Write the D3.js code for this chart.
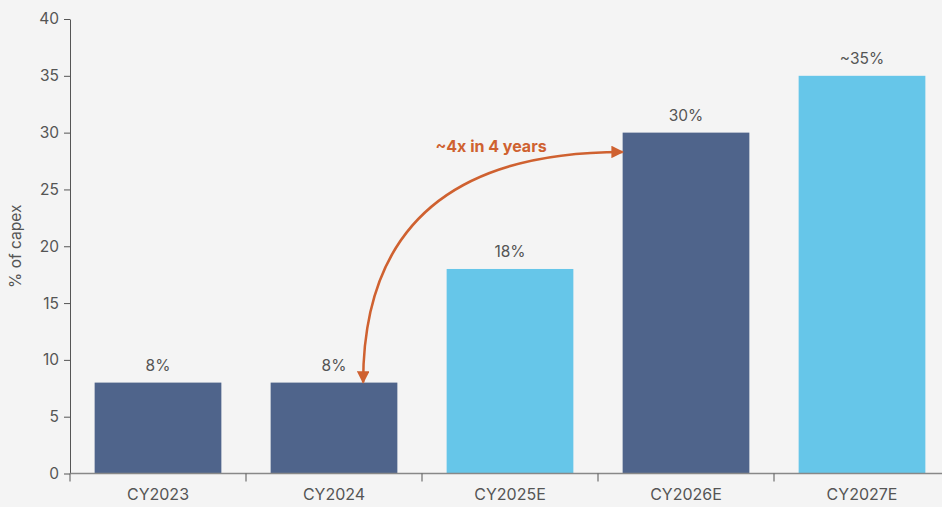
<!DOCTYPE html>
<html><head><meta charset="utf-8">
<script src="https://cdn.jsdelivr.net/npm/d3@7"></script>
<style>
html,body{margin:0;padding:0;background:#f4f4f4;}
svg{display:block;font-family:Inter,"Noto Sans",sans-serif;}
</style></head>
<body><svg id="chart" width="942" height="507"></svg>
<script>
const categories = ["CY2023","CY2024","CY2025E","CY2026E","CY2027E"];
const values = [8, 8, 18, 30, 35];
const valueLabels = ["8%","8%","18%","30%","~35%"];
const barKinds = ["actual","actual","estimate","actual","estimate"];
const yTicks = [0,5,10,15,20,25,30,35,40];
const yTitle = "% of capex";
const annotation = "~4x in 4 years";

const colors = {actual:"#4f648b", estimate:"#66c6e9"};
const svg = d3.select("#chart");
const x = d3.scaleBand().domain(categories).range([70, 950]).paddingInner(0.28).paddingOuter(0.14);
const y = d3.scaleLinear().domain([0, 40]).range([473.5, 19]);

// bars
svg.selectAll("rect.bar").data(categories).join("rect")
  .attr("class","bar")
  .attr("x", d => x(d))
  .attr("width", x.bandwidth())
  .attr("y", (d,i) => y(values[i]))
  .attr("height", (d,i) => y(0) - y(values[i]))
  .attr("fill", (d,i) => colors[barKinds[i]]);

// value labels
svg.selectAll("text.val").data(categories).join("text")
  .attr("class","val")
  .attr("x", d => x(d) + x.bandwidth()/2)
  .attr("y", (d,i) => y(values[i]) - 12)
  .attr("text-anchor","middle")
  .attr("font-size", 15.5)
  .attr("fill","#555")
  .text((d,i) => valueLabels[i]);

// y axis
const yAxis = svg.append("g").attr("transform","translate(70,0)")
  .call(d3.axisLeft(y).tickValues(yTicks).tickSize(6).tickPadding(5).tickSizeOuter(0));
yAxis.select(".domain").attr("stroke","#555");
yAxis.selectAll(".tick line").attr("stroke","#555");
yAxis.selectAll(".tick text").attr("font-size",15.5).attr("fill","#555").attr("font-family","Inter,'Noto Sans',sans-serif");

// x axis
const xTickPos = categories.map(c => x(c) - x.step()*x.paddingInner()/2);
const xAxis = svg.append("g").attr("transform",`translate(0,${y(0)})`);
xAxis.append("line").attr("x1",70).attr("x2",950).attr("y1",0).attr("y2",0).attr("stroke","#888").attr("stroke-width",1.5);
xAxis.selectAll("line.tk").data(xTickPos).join("line").attr("class","tk")
  .attr("x1",d=>d).attr("x2",d=>d).attr("y1",0).attr("y2",8).attr("stroke","#555");
xAxis.selectAll("text.xl").data(categories).join("text").attr("class","xl")
  .attr("x", d => x(d) + x.bandwidth()/2)
  .attr("y", 26)
  .attr("text-anchor","middle")
  .attr("font-size",16).attr("fill","#555")
  .text(d=>d);

// y title
svg.append("text")
  .attr("transform",`translate(21,${(y(0)+y(40))/2}) rotate(-90)`)
  .attr("text-anchor","middle")
  .attr("font-size",15.5).attr("fill","#555")
  .text(yTitle);

// annotation arrow
const arrowColor = "#cf6130";
const defs = svg.append("defs");
defs.append("marker").attr("id","ah").attr("viewBox","0 0 10 10").attr("refX",9).attr("refY",5)
  .attr("markerWidth",5).attr("markerHeight",5).attr("orient","auto-start-reverse")
  .append("path").attr("d","M0,0 L10,5 L0,10 Z").attr("fill",arrowColor);

const x0 = x("CY2024") + x.bandwidth()*0.73, y0 = y(8);
const x1 = x("CY2026E"), y1 = y(28.3);
const p = d3.path();
p.moveTo(x0, y0);
p.quadraticCurveTo(x0, y1, x1, y1);
svg.append("path").attr("d", p.toString())
  .attr("fill","none").attr("stroke",arrowColor).attr("stroke-width",2.5)
  .attr("marker-start","url(#ah)").attr("marker-end","url(#ah)");

svg.append("text")
  .attr("x", 491).attr("y", 152)
  .attr("text-anchor","middle")
  .attr("font-size",16).attr("font-weight","bold").attr("fill",arrowColor)
  .text(annotation);
</script></body></html>
